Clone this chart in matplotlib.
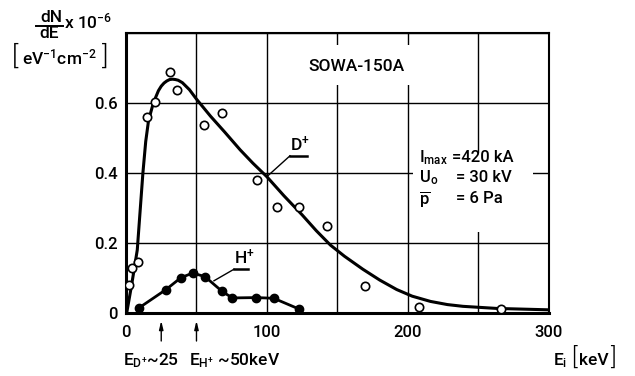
import matplotlib
matplotlib.use('Agg')
import matplotlib.pyplot as plt
from matplotlib.patches import Rectangle
from matplotlib.lines import Line2D

plt.rcParams['font.family'] = ['Roboto', 'DejaVu Sans']
plt.rcParams['font.weight'] = 500
plt.rcParams['mathtext.default'] = 'regular'

# D+ measured points (open circles)
d_x = [2.1, 4.5, 8.3, 15.1, 20.3, 31.4, 36.4, 55.1, 68.1, 92.9, 106.9, 122.5, 142.6, 169.3, 208, 266]
d_y = [0.08, 0.129, 0.145, 0.559, 0.602, 0.688, 0.637, 0.537, 0.571, 0.381, 0.303, 0.303, 0.248, 0.078, 0.017, 0.011]

# D+ fitted curve
fit_x = [0.5, 4, 8, 10, 12, 14, 16, 19.4, 23, 25, 27, 29, 31, 33, 35, 37, 40, 45, 50, 60, 70, 81, 90, 100,
         112, 125, 135, 145, 155, 168, 180, 192, 203, 216, 228, 239, 263, 300]
fit_y = [0.0, 0.08, 0.18, 0.29, 0.40, 0.49, 0.55, 0.60, 0.635, 0.648, 0.657, 0.663, 0.667, 0.668, 0.667, 0.665,
         0.658, 0.638, 0.611, 0.562, 0.517, 0.466, 0.428, 0.389, 0.335, 0.28, 0.235, 0.194, 0.162, 0.125,
         0.094, 0.067, 0.048, 0.033, 0.024, 0.019, 0.013, 0.009]

# H+ measured points (filled circles)
h_x = [9.4, 28.4, 39.0, 47.3, 56.0, 68.1, 75.4, 92.4, 104.8, 122.9]
h_y = [0.015, 0.067, 0.101, 0.114, 0.104, 0.062, 0.043, 0.044, 0.042, 0.011]

x_ticks = [0, 100, 200, 300]
x_minor = [50, 150, 250]
y_ticks = [0, 0.2, 0.4, 0.6, 0.8]
y_labels = ['0', '0.2', '0.4', '0.6', '']

fig = plt.figure(figsize=(6.35, 3.76), dpi=100)
ax = fig.add_axes([0.1984, 0.1676, 0.6661, 0.7447])
ax.set_xlim(0, 300)
ax.set_ylim(0, 0.8)
ax.set_xticks(x_ticks)
ax.set_xticks(x_minor, minor=True)
ax.set_yticks(y_ticks)
ax.set_yticklabels(y_labels)
ax.set_axisbelow(True)
ax.grid(True, which='both', color='black', lw=1.0)
ax.tick_params(which='both', length=0)
ax.tick_params(axis='x', pad=9, labelsize=12)
ax.tick_params(axis='y', pad=6, labelsize=12)
for s in ['left', 'bottom']:
    ax.spines[s].set_linewidth(2.2)
for s in ['top', 'right']:
    ax.spines[s].set_linewidth(1.5)

# white masks breaking the grid behind the labels
ax.add_patch(Rectangle((122, 0.651), 81, 0.115, facecolor='white', edgecolor='none', zorder=1))
ax.add_patch(Rectangle((203.5, 0.231), 85, 0.226, facecolor='white', edgecolor='none', zorder=1))

ax.plot(fit_x, fit_y, color='black', lw=2.2, zorder=3, solid_capstyle='round', solid_joinstyle='round')
ax.plot(d_x, d_y, 'o', ms=6, mfc='white', mec='black', mew=1.2, zorder=4)
ax.plot(h_x, h_y, '-o', color='black', lw=2.0, ms=6, mfc='black', mec='black', zorder=4,
        solid_joinstyle='round')

ax.text(163.8, 0.703, 'SOWA-150A', fontsize=12.5, ha='center', va='center', zorder=5)

# parameter block
ax.text(207.8, 0.443, 'I$_{max}$', fontsize=12, ha='left', va='center', zorder=5)
ax.text(207.8, 0.386, 'U$_{o}$', fontsize=12, ha='left', va='center', zorder=5)
ax.text(207.8, 0.326, r'$\overline{p}$', fontsize=12, ha='left', va='center', zorder=5)
ax.text(231.5, 0.443, '=420 kA', fontsize=12, ha='left', va='center', zorder=5)
ax.text(234.0, 0.386, '= 30 kV', fontsize=12, ha='left', va='center', zorder=5)
ax.text(234.0, 0.326, '= 6 Pa', fontsize=12, ha='left', va='center', zorder=5)

# D+ label with underline and leader
ax.text(116.3, 0.455, 'D$^{+}$', fontsize=12.5, ha='left', va='bottom', zorder=5)
ax.plot([99.8, 116.3], [0.389, 0.449], color='black', lw=1.0, zorder=5)
ax.plot([116.3, 128.6], [0.449, 0.449], color='black', lw=1.8, zorder=5)
# H+ label with underline and leader
ax.text(76.6, 0.131, 'H$^{+}$', fontsize=12.5, ha='left', va='bottom', zorder=5)
ax.plot([62.4, 76.6], [0.092, 0.125], color='black', lw=1.0, zorder=5)
ax.plot([76.6, 86.5], [0.125, 0.125], color='black', lw=1.8, zorder=5)

# arrows below the axis
for xa in [25, 50]:
    ax.annotate('', xy=(xa, -0.014), xytext=(xa, -0.088), xycoords='data',
                arrowprops=dict(arrowstyle='-|>,head_length=0.5,head_width=0.12', color='black', lw=1.0),
                annotation_clip=False)

ax.text(-2.1, -0.135, 'E$_{D^{+}}$~25', fontsize=12.5, ha='left', va='center', clip_on=False)
ax.text(44.5, -0.135, 'E$_{H^{+}}$ ~50keV', fontsize=12.5, ha='left', va='center', clip_on=False)
ax.text(303, -0.135, 'E$_{i}$', fontsize=12.5, ha='left', va='center', clip_on=False)
ax.text(316, -0.13, '[', fontsize=17, ha='left', va='center', clip_on=False, weight=300)
ax.text(321.5, -0.135, 'keV', fontsize=12.5, ha='left', va='center', clip_on=False)
ax.text(343, -0.13, ']', fontsize=17, ha='left', va='center', clip_on=False, weight=300)

# y-axis label, drawn as a fraction
W, H = 635, 376
fig.text(51 / W, 1 - 17 / H, 'dN', fontsize=12.5, ha='center', va='center')
fig.text(49 / W, 1 - 33 / H, 'dE', fontsize=12.5, ha='center', va='center')
fig.add_artist(Line2D([36 / W, 63 / W], [1 - 25.5 / H, 1 - 25.5 / H], color='black', lw=1.4))
fig.text(64 / W, 1 - 21 / H, 'x 10$^{-6}$', fontsize=12.5, ha='left', va='center')
fig.text(12 / W, 1 - 56 / H, '[', fontsize=19, ha='left', va='center', weight=300)
fig.text(22 / W, 1 - 57 / H, 'eV$^{-1}$cm$^{-2}$', fontsize=12.5, ha='left', va='center')
fig.text(102 / W, 1 - 56 / H, ']', fontsize=19, ha='left', va='center', weight=300)

fig.savefig('out.png', dpi=100)
